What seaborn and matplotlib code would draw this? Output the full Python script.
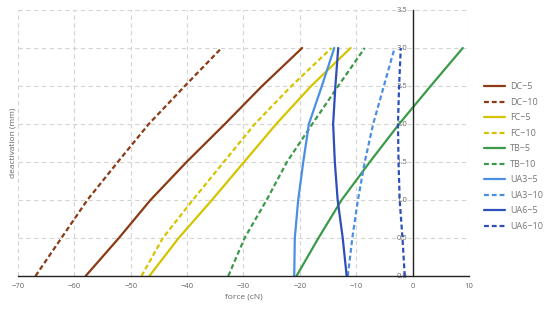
import pandas as pd
import matplotlib
matplotlib.use("Agg")
import matplotlib.pyplot as plt
import seaborn as sns

# deactivation levels (mm)
deact = [0.0, 0.5, 1.0, 1.5, 2.0, 2.5, 3.0]

# force (cN) for each series, read at each deactivation level
dc5 = [-58.0, -52.1, -46.5, -40.1, -33.3, -26.7, -19.6]
dc10 = [-66.9, -62.3, -57.7, -52.3, -46.8, -40.4, -33.9]
fc5 = [-46.7, -41.5, -35.6, -29.9, -24.2, -18.0, -11.0]
fc10 = [-48.1, -44.3, -39.0, -33.5, -28.0, -21.5, -14.4]
tb5 = [-20.6, -16.7, -12.6, -7.6, -2.4, 3.2, 8.9]
tb10 = [-32.7, -29.8, -25.9, -22.3, -17.8, -13.2, -8.5]
ua3_5 = [-21.0, -20.9, -20.3, -19.4, -18.4, -16.1, -13.9]
ua3_10 = [-11.5, -10.7, -9.7, -8.5, -7.0, -5.1, -3.2]
ua6_5 = [-11.7, -12.4, -13.3, -13.8, -14.1, -13.7, -13.2]
ua6_10 = [-1.4, -1.8, -2.3, -2.5, -2.6, -2.4, -2.1]

series_names = ["DC\u22125", "DC\u221210", "FC\u22125", "FC\u221210", "TB\u22125",
                "TB\u221210", "UA3\u22125", "UA3\u221210", "UA6\u22125", "UA6\u221210"]
series_values = [dc5, dc10, fc5, fc10, tb5, tb10, ua3_5, ua3_10, ua6_5, ua6_10]

colors = ["#8a3a14", "#8a3a14", "#d6c400", "#d6c400", "#3b9a4a",
          "#3b9a4a", "#4b8fe3", "#4b8fe3", "#2f4fb8", "#2f4fb8"]
dashed = [False, True] * 5

x_ticks = list(range(-70, 11, 10))
y_ticks = [0.0, 0.5, 1.0, 1.5, 2.0, 2.5, 3.0, 3.5]

sns.set_style("white")
plt.rcParams["font.family"] = ["Open Sans", "DejaVu Sans"]

fig = plt.figure(figsize=(5.5, 3.1), dpi=100)
ax = fig.add_axes([18 / 550, 34 / 310, 451 / 550, 266 / 310])

for name, vals, col, dsh in zip(series_names, series_values, colors, dashed):
    df = pd.DataFrame({"force": vals, "deact": deact})
    ls = (0, (2.2, 1.3)) if dsh else "-"
    sns.lineplot(data=df, x="force", y="deact", sort=False, color=col,
                 linewidth=1.6, linestyle=ls, label=name, ax=ax)

ax.set_xlim(-70, 10)
ax.set_ylim(0, 3.5)
ax.set_xticks(x_ticks)
ax.set_yticks(y_ticks)
ax.set_xticklabels([str(t).replace("-", "\u2212") for t in x_ticks])
ax.set_yticklabels([f"{t:.1f}" for t in y_ticks])

ax.grid(True, color="#d4d4d4", linestyle=(0, (4, 3)), linewidth=0.8)
ax.set_axisbelow(True)

ax.spines["left"].set_position(("data", 0))
ax.spines["right"].set_visible(False)
ax.spines["top"].set_visible(False)
for s in ["left", "bottom"]:
    ax.spines[s].set_color("#222222")
    ax.spines[s].set_linewidth(1.0)

ax.tick_params(axis="both", labelsize=5.5, labelcolor="#666666", color="#222222",
               length=3, width=0.8, pad=2)
ax.tick_params(axis="x", direction="out")
ax.tick_params(axis="y", direction="out", length=2)

ax.set_xlabel("force (cN)", fontsize=6, color="#666666")
ax.set_ylabel("deactivation (mm)", fontsize=6, color="#666666")
ax.xaxis.set_label_coords(0.5, -0.065)
ax.yaxis.set_label_coords(-0.003, 0.5)

ax.legend(loc="center left", bbox_to_anchor=(480 / 550, 0.495),
          bbox_transform=fig.transFigure, frameon=False, fontsize=6.5,
          handlelength=2.4, labelspacing=0.72, handletextpad=0.55,
          labelcolor="#777777", borderaxespad=0)

fig.savefig("out.png", dpi=100)
